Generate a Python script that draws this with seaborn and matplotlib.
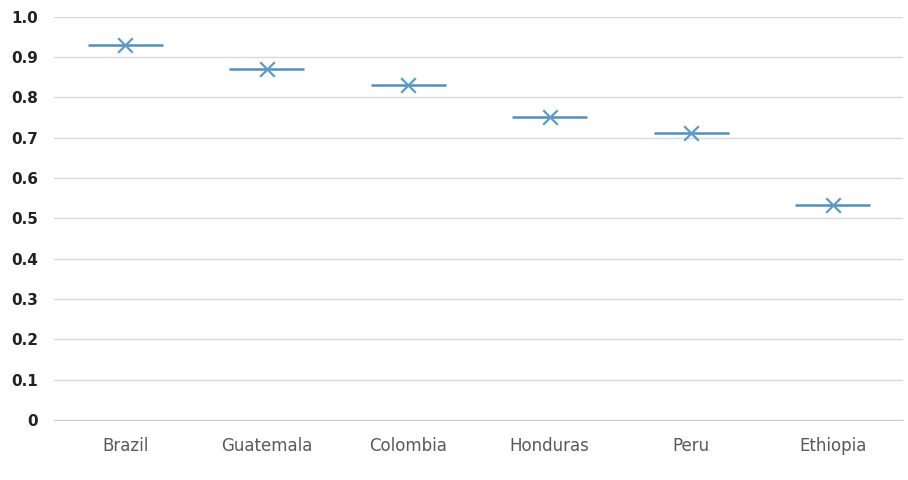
import numpy as np
import matplotlib
matplotlib.use("Agg")
import matplotlib.pyplot as plt
import seaborn as sns

countries = ["Brazil", "Guatemala", "Colombia", "Honduras", "Peru", "Ethiopia"]
values = [0.93, 0.87, 0.83, 0.752, 0.712, 0.533]
ytick_values = [0, 0.1, 0.2, 0.3, 0.4, 0.5, 0.6, 0.7, 0.8, 0.9, 1.0]
ytick_labels = ["0", "0.1", "0.2", "0.3", "0.4", "0.5", "0.6", "0.7", "0.8", "0.9", "1.0"]

sns.set_style("white")
plt.rcParams["font.family"] = ["DejaVu Sans"]

fig, ax = plt.subplots(figsize=(9.08, 4.8), dpi=100)
fig.subplots_adjust(left=0.06, right=0.995, top=0.965, bottom=0.125)

pos = np.arange(len(countries))
ax.hlines(values, pos - 0.265, pos + 0.265, color="#4f8fc0", linewidth=1.8, zorder=3)
sns.scatterplot(x=pos, y=values, marker="x", s=110, color="#5d9acb",
                linewidth=1.6, zorder=4, ax=ax, legend=False)

ax.set_xlim(-0.5, len(countries) - 0.5)
ax.set_ylim(0, 1.0)
ax.set_yticks(ytick_values)
ax.set_yticklabels(ytick_labels, fontweight="bold", color="#222222", fontsize=11)
ax.set_xticks(pos)
ax.set_xticklabels(countries, color="#595959", fontsize=12)
ax.tick_params(axis="x", length=0, pad=12)
ax.tick_params(axis="y", length=0, pad=12)
ax.grid(axis="y", color="#d9d9d9", linewidth=1)
for side in ["top", "right", "left"]:
    ax.spines[side].set_visible(False)
ax.spines["bottom"].set_color("#d0d0d0")
ax.set_xlabel("")
ax.set_ylabel("")

fig.savefig("out.png", dpi=100)
